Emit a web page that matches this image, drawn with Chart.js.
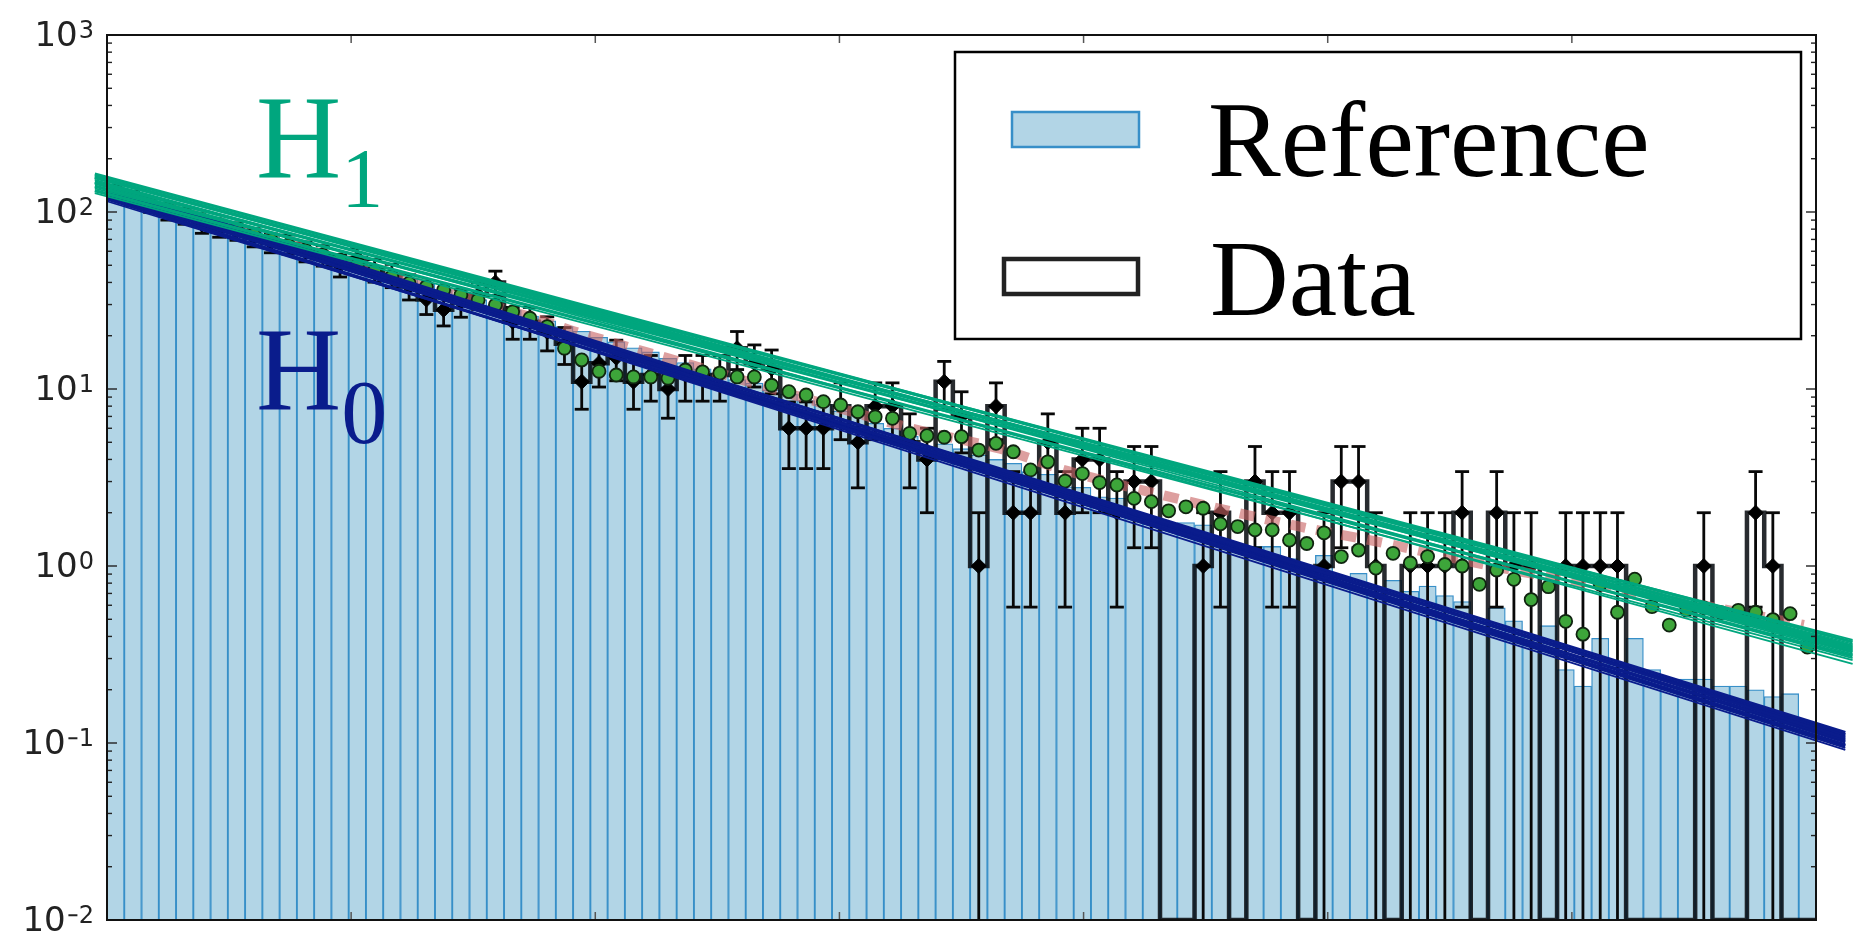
<!DOCTYPE html>
<html>
<head>
<meta charset="utf-8">
<script src="https://cdn.jsdelivr.net/npm/chart.js@4.4.1/dist/chart.umd.min.js"></script>
<style>
html,body{margin:0;padding:0;background:#fff;}
canvas{display:block;}
</style>
</head>
<body>
<canvas id="c" width="1854" height="934"></canvas>
<script>
// ---------------- data ----------------
const X_RANGE = [0, 70];
const N_BINS = 99;
const X_TICKS = [10, 20, 30, 40, 50, 60];
const Y_TICK_EXPONENTS = [-2, -1, 0, 1, 2, 3];
const Y_RANGE = [0.01, 1000];
const LEGEND_LABELS = ['Reference', 'Data'];
const HYPOTHESIS_LABELS = [['H', '1'], ['H', '0']];

const REFERENCE = [
  133, 125, 115, 109, 100, 95, 88, 83, 77, 72.5,
  67, 63, 58.5, 55, 51, 48, 44.5, 42, 39, 36.5,
  34, 32, 29.5, 27.8, 25.8, 24.3, 22.5, 21.2, 19.6, 18.5,
  17.1, 16.2, 14.9, 14.1, 13.0, 12.3, 11.3, 10.8, 9.9, 9.4,
  8.6, 8.2, 7.5, 7.2, 6.4, 6.0, 5.4, 4.0, 4.9, 4.6,
  4.24, 4.0, 3.8, 3.41, 3.3, 2.8, 2.78, 2.46, 2.42, 2.0,
  1.85, 1.72, 1.76, 1.71, 1.40, 1.30, 1.29, 1.29, 1.10, 0.98,
  1.15, 0.85, 0.91, 0.74, 0.83, 0.72, 0.77, 0.68, 0.63, 0.49,
  0.58, 0.49, 0.40, 0.46, 0.26, 0.21, 0.39, 0.28, 0.39, 0.26,
  0.21, 0.23, 0.23, 0.21, 0.21, 0.20, 0.183, 0.19, 0.122
];

const DATA = [
  130, 120, 110, 100, 95, 85, 81, 78, 72, 67,
  66, 60, 57, 50, 55, 47, 44, 38, 32, 28,
  31, 34, 40, 24, 24, 21, 18, 11, 14, 15,
  11, 12, 10, 12, 12, 12, 17, 14, 13, 6,
  6, 6, 8, 5, 8, 8, 5, 4, 11, 7,
  1, 8, 2, 2, 5, 2, 4, 4, 2, 3,
  3, 0, 0, 1, 2, 0, 3, 2, 2, 0,
  1, 3, 3, 1, 0, 1, 1, 1, 2, 0,
  2, 1, 1, 0, 1, 1, 1, 1, 0, 0,
  0, 0, 1, 0, 0, 2, 1, 0, 0
];

const GREEN_POINTS = [
  127.5, 119.5, 111, 104, 97.4, 90.7, 85.0, 79.6, 74.6, 69.7,
  65.1, 61.0, 57.2, 53.6, 50.2, 46.7, 43.1, 39.6, 37.8, 36.3,
  34.0, 31.8, 29.8, 27.3, 25.1, 22.5, 17.0, 14.6, 12.6, 12.0,
  11.7, 11.7, 11.5, 12.8, 12.5, 12.3, 11.7, 11.7, 10.5, 9.66,
  9.25, 8.48, 8.12, 7.44, 6.97, 6.83, 5.62, 5.45, 5.34, 5.38,
  4.52, 4.93, 4.42, 3.49, 3.88, 3.02, 3.33, 2.96, 2.87, 2.41,
  2.31, 2.05, 2.16, 2.12, 1.73, 1.67, 1.60, 1.60, 1.40, 1.34,
  1.54, 1.13, 1.23, 0.974, 1.18, 1.04, 1.13, 1.02, 1.00, 0.788,
  0.949, 0.841, 0.646, 0.764, 0.487, 0.412, 0.789, 0.548, 0.842, 0.589,
  0.464, 0.564, 0.58, 0.545, 0.562, 0.548, 0.498, 0.538, 0.348
];

const RED_X = [0.35, 7.9, 18.0, 19.37, 22.77, 32.89, 36.58, 39.32, 44.07, 48.58, 52.27, 56.93, 63.61, 69.5];
const RED_Y = [131, 63.5, 23.9, 20.7, 15.2, 6.02, 4.6, 3.45, 2.36, 1.70, 1.35, 0.987, 0.668, 0.465];

const H0_X = [0, 71.2];
const H0_START = [139.5, 136.0, 132.5, 129.0, 125.5, 122.0, 118.5, 115.0, 134.0, 123.5, 130.5, 120.0];
const H0_END   = [0.1067, 0.0975, 0.1147, 0.0938, 0.1110, 0.0914, 0.1040, 0.1125, 0.1013, 0.1095, 0.0962, 0.0987];

const H1_X = [-0.5, 71.5];
const H1_START = [164, 160, 156, 152, 148, 144, 140, 136, 132, 128, 158, 146];
const H1_END   = [0.353, 0.318, 0.372, 0.302, 0.344, 0.2795, 0.335, 0.382, 0.310, 0.294, 0.3266, 0.3625];

// ---------------- derived geometry ----------------
const BIN_W = (X_RANGE[1] - X_RANGE[0]) / N_BINS;
const centers = REFERENCE.map((_, i) => X_RANGE[0] + (i + 0.5) * BIN_W);
const edges = Array.from({length: N_BINS + 1}, (_, i) => X_RANGE[0] + i * BIN_W);

const C_GREEN = '#00a67e';
const C_NAVY = '#0a1c8c';
const C_BAR = 'rgb(178,213,230)';
const C_BAR_EDGE = 'rgb(55,143,200)';

const datasets = [];

datasets.push({
  type: 'bar', label: 'Reference',
  data: centers.map((x, i) => ({x, y: REFERENCE[i]})),
  backgroundColor: C_BAR, borderColor: C_BAR_EDGE,
  borderWidth: 1.3, borderSkipped: 'start',
  barPercentage: 1, categoryPercentage: 1, order: 7
});

const DATA_STEP_INDEX = datasets.length;
datasets.push({
  type: 'line', label: 'Data',
  data: edges.map((x, i) => ({x, y: Math.max(DATA[Math.min(i, N_BINS - 1)], Y_RANGE[0])})),
  stepped: true, borderColor: 'rgba(10,14,18,0.88)', borderWidth: 4.5,
  pointRadius: 0, fill: false, order: 6
});

datasets.push({
  type: 'line', label: 'Data points',
  data: centers.map((x, i) => ({x, y: DATA[i] > 0 ? DATA[i] : null})),
  showLine: false, pointStyle: 'rectRot', pointRadius: 7.5,
  pointBackgroundColor: '#000', pointBorderColor: '#000', pointBorderWidth: 1, order: 5
});

datasets.push({
  type: 'line', label: 'Fit',
  data: RED_X.map((x, i) => ({x, y: RED_Y[i]})),
  borderColor: 'rgba(200,100,100,0.62)', borderWidth: 10, borderDash: [15, 11],
  borderCapStyle: 'butt', tension: 0.35, pointRadius: 0, fill: false, order: 4
});

datasets.push({
  type: 'line', label: 'Prediction',
  data: centers.map((x, i) => ({x, y: GREEN_POINTS[i]})),
  showLine: false, pointRadius: 6.5, pointBackgroundColor: '#3da53a',
  pointBorderColor: '#102410', pointBorderWidth: 1.8, order: 3
});

H0_START.forEach((s, k) => datasets.push({
  type: 'line', label: 'H0_' + k,
  data: [{x: H0_X[0], y: s}, {x: H0_X[1], y: H0_END[k]}],
  borderColor: C_NAVY, borderWidth: k % 2 ? 1.8 : 3.2, pointRadius: 0, fill: false, clip: false, order: 2
}));

H1_START.forEach((s, k) => datasets.push({
  type: 'line', label: 'H1_' + k,
  data: [{x: H1_X[0], y: s}, {x: H1_X[1], y: H1_END[k]}],
  borderColor: C_GREEN, borderWidth: k % 2 ? 1.8 : 3.2, pointRadius: 0, fill: false, clip: false, order: 1
}));

// ---------------- plugin: matplotlib-like decorations ----------------
function seg(ctx, x1, y1, x2, y2) { ctx.beginPath(); ctx.moveTo(x1, y1); ctx.lineTo(x2, y2); ctx.stroke(); }

const decor = {
  id: 'decor',
  beforeDraw(chart) {
    const ctx = chart.ctx;
    ctx.save(); ctx.fillStyle = '#fff'; ctx.fillRect(0, 0, chart.width, chart.height); ctx.restore();
  },
  afterDatasetDraw(chart, args) {
    if (args.index !== DATA_STEP_INDEX) return;
    const {ctx, scales: {x, y}, chartArea} = chart;
    ctx.save();
    ctx.strokeStyle = '#080808'; ctx.lineWidth = 2.8; ctx.lineCap = 'butt';
    DATA.forEach((n, i) => {
      if (n <= 0) return;
      const px = x.getPixelForValue(centers[i]);
      const e = Math.sqrt(n);
      const yHi = y.getPixelForValue(n + e);
      const lo = n - e;
      const yLo = lo > Y_RANGE[0] ? y.getPixelForValue(lo) : chartArea.bottom;
      seg(ctx, px, yLo, px, yHi);
      seg(ctx, px - 7, yHi, px + 7, yHi);
      if (lo > Y_RANGE[0]) seg(ctx, px - 7, yLo, px + 7, yLo);
    });
    ctx.restore();
  },
  afterDatasetsDraw(chart) {
    const {ctx, chartArea: {left, right, top, bottom}, scales: {x, y}} = chart;
    ctx.save();
    ctx.strokeStyle = '#222'; ctx.lineWidth = 1.4;
    for (let e = -2; e <= 2; e++) {
      for (let m = 1; m <= 9; m++) {
        const py = y.getPixelForValue(m * Math.pow(10, e));
        const len = m === 1 ? 10 : 5;
        seg(ctx, left, py, left + len, py);
        seg(ctx, right, py, right - len, py);
      }
    }
    ctx.strokeStyle = '#555'; ctx.lineWidth = 1.5;
    X_TICKS.forEach(v => {
      const px = x.getPixelForValue(v);
      seg(ctx, px, bottom, px, bottom - 8);
      seg(ctx, px, top, px, top + 8);
    });
    ctx.strokeStyle = '#111'; ctx.lineWidth = 2;
    ctx.strokeRect(left, top, right - left, bottom - top);

    // y tick labels 10^k
    ctx.fillStyle = '#222'; ctx.textBaseline = 'alphabetic';
    const rightEdge = left - 13;
    Y_TICK_EXPONENTS.forEach(e => {
      const py = y.getPixelForValue(Math.pow(10, e));
      ctx.font = '24px "DejaVu Sans"';
      ctx.textAlign = 'left';
      const digits = String(Math.abs(e));
      const dW = ctx.measureText(digits).width;
      const minusW = e < 0 ? ctx.measureText('\u2212').width * 0.6 : 0;
      const supW = dW + minusW;
      const sx = rightEdge - supW;
      if (e < 0) {
        ctx.save(); ctx.translate(sx, py + 3); ctx.scale(0.6, 1);
        ctx.fillText('\u2212', 0, 0); ctx.restore();
      }
      ctx.fillText(digits, sx + minusW, py + 3);
      ctx.font = '34px "DejaVu Sans"';
      ctx.textAlign = 'right';
      ctx.fillText('10', sx - 1, py + 11);
    });
    ctx.restore();
  },
  afterDraw(chart) {
    const {ctx} = chart;
    ctx.save();
    // legend box
    ctx.fillStyle = '#fff'; ctx.fillRect(955, 52, 846, 287);
    ctx.strokeStyle = '#000'; ctx.lineWidth = 2.5; ctx.strokeRect(955, 52, 846, 287);
    ctx.fillStyle = C_BAR; ctx.fillRect(1012, 112, 127, 35);
    ctx.strokeStyle = C_BAR_EDGE; ctx.lineWidth = 2.5; ctx.strokeRect(1012, 112, 127, 35);
    ctx.fillStyle = '#fff'; ctx.fillRect(1004, 259, 134, 35);
    ctx.strokeStyle = '#222'; ctx.lineWidth = 4.5; ctx.strokeRect(1004, 259, 134, 35);
    ctx.fillStyle = '#000'; ctx.textAlign = 'left'; ctx.textBaseline = 'alphabetic';
    ctx.font = '109px "Liberation Serif"';
    ctx.fillText(LEGEND_LABELS[0], 1208, 176);
    ctx.fillText(LEGEND_LABELS[1], 1210, 315);

    // hypothesis labels
    ctx.font = '118px "Liberation Serif"';
    const hw = ctx.measureText('H').width;
    ctx.fillStyle = C_GREEN;
    ctx.fillText(HYPOTHESIS_LABELS[0][0], 256, 177);
    ctx.font = '84px "Liberation Serif"';
    ctx.fillText(HYPOTHESIS_LABELS[0][1], 256 + hw, 207);
    ctx.fillStyle = C_NAVY;
    ctx.font = '118px "Liberation Serif"';
    ctx.fillText(HYPOTHESIS_LABELS[1][0], 256, 409);
    ctx.font = '92px "Liberation Serif"';
    ctx.fillText(HYPOTHESIS_LABELS[1][1], 256 + hw, 443);
    ctx.restore();
  }
};

new Chart(document.getElementById('c'), {
  type: 'bar',
  data: {datasets},
  options: {
    responsive: false,
    animation: false,
    events: [],
    devicePixelRatio: 1,
    layout: {padding: {left: 107, top: 35, right: 38, bottom: 14}},
    plugins: {legend: {display: false}, tooltip: {enabled: false}},
    scales: {
      x: {type: 'linear', min: X_RANGE[0], max: X_RANGE[1], offset: false, display: false},
      y: {type: 'logarithmic', min: Y_RANGE[0], max: Y_RANGE[1], display: false}
    }
  },
  plugins: [decor]
});
</script>
</body>
</html>
